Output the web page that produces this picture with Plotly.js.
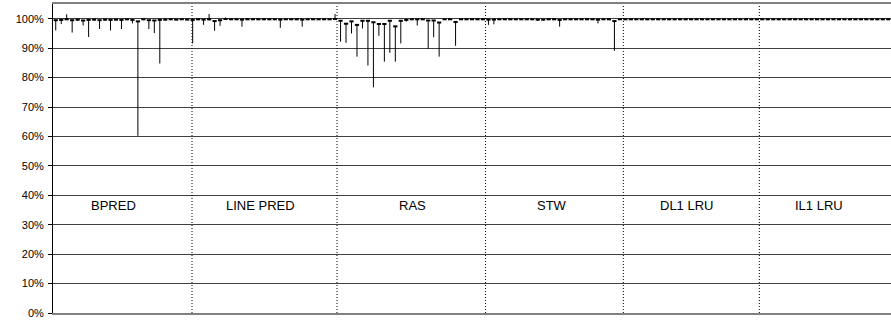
<!DOCTYPE html>
<html>
<head>
<meta charset="utf-8">
<script src="https://cdn.plot.ly/plotly-3.0.1.min.js"></script>
<style>html,body{margin:0;padding:0;background:#fff;}#chart{width:891px;height:320px;}</style>
</head>
<body>
<div id="chart"></div>
<script>
// ---- data (percent) ----
const groupNames = ["BPRED", "LINE PRED", "RAS", "STW", "DL1 LRU", "IL1 LRU"];

const bpredAvg  = [99.5,99.6,99.8,99.5,99.7,99.4,99.6,99.7,99.5,99.7,99.6,99.7,99.6,99.8,99.6,99.1,99.8,99.5,99.4,99.6,99.7,99.8,99.7,99.8,99.7];
const bpredLow  = [96.0,98.2,99.6,95.3,99.2,97.7,93.8,99.3,96.5,99.2,96.0,99.3,96.5,99.5,98.4,60.2,99.5,96.5,95.1,84.8,99.4,99.6,99.5,99.6,99.7];
const bpredHigh = [99.5,99.6,101.5,99.5,99.7,99.4,99.6,99.7,99.5,99.7,99.6,99.7,99.6,99.8,99.6,99.1,99.8,99.5,99.4,99.6,99.7,99.8,99.7,99.8,99.7];

const linePredAvg  = [99.6,99.8,99.7,99.8,99.2,99.5,99.9,99.8,99.8,99.7,99.8,99.8,99.8,99.8,99.8,99.8,99.7,99.8,99.8,99.8,99.7,99.8,99.8,99.8,99.8,99.8,99.9];
const linePredLow  = [91.6,99.5,97.9,99.4,95.9,97.6,99.8,99.6,99.8,97.3,99.8,99.8,99.8,99.8,99.8,99.8,96.9,99.8,99.8,99.8,97.3,99.8,99.8,99.8,99.8,99.8,99.9];
const linePredHigh = [99.6,99.8,99.7,101.6,99.2,99.5,100.4,99.8,99.8,99.7,99.8,99.8,99.8,99.8,99.8,99.8,99.7,99.8,99.8,99.8,99.7,99.8,99.8,99.8,99.8,99.8,101.6];

const rasAvg  = [99.3,98.3,99.1,97.9,99.3,99.3,98.8,98.2,98.2,99.3,97.4,99.3,99.6,99.8,99.8,99.8,99.4,99.4,98.7,99.8,99.8,98.9,99.8,99.8,99.8,99.8,99.8];
const rasLow  = [92.2,91.8,95.0,87.1,96.7,84.1,76.7,94.2,85.4,88.4,85.4,91.6,99.0,99.8,97.7,99.8,89.8,93.7,87.1,99.8,99.8,90.8,99.8,99.8,99.8,99.8,99.8];
const rasHigh = [99.3,98.3,99.1,97.9,99.3,99.3,98.8,98.2,98.2,99.3,97.4,99.3,99.6,99.8,99.8,99.8,99.4,99.4,98.7,99.8,99.8,98.9,99.8,99.8,99.8,99.8,99.8];

const stwAvg  = [99.7,99.7,99.8,99.8,99.8,99.8,99.8,99.8,99.8,99.7,99.7,99.8,99.8,99.6,99.8,99.8,99.8,99.8,99.8,99.8,99.7,99.8,99.8,99.2,99.8];
const stwLow  = [97.9,98.1,99.8,99.8,99.8,99.8,99.8,99.8,99.8,99.2,99.3,99.8,99.8,97.3,99.8,99.8,99.8,99.8,99.8,99.8,98.4,99.8,99.8,89.1,99.8];
const stwHigh = [99.7,99.7,99.8,99.8,99.8,99.8,99.8,99.8,99.8,99.7,99.7,99.8,99.8,99.6,99.8,99.8,99.8,99.8,99.8,99.8,99.7,99.8,99.8,99.2,99.8];

const dl1Avg  = [99.8,99.8,99.8,99.8,99.8,99.8,99.8,99.8,99.8,99.8,99.8,99.8,99.8,99.8,99.8,99.8,99.8,99.8,99.8,99.8,99.8,99.8,99.8,99.8,99.8];
const dl1Low  = [99.8,99.8,99.8,99.8,99.8,99.8,99.8,99.8,99.8,99.8,99.8,99.8,99.8,99.8,99.8,99.8,99.8,99.8,99.8,99.8,99.8,99.8,99.8,99.8,99.8];
const dl1High = [99.8,99.8,99.8,99.8,99.8,99.8,99.8,99.8,99.8,99.8,99.8,99.8,99.8,99.8,99.8,99.8,99.8,99.8,99.8,99.8,99.8,99.8,99.8,99.8,99.8];

const il1Avg  = [99.8,99.8,99.8,99.8,99.8,99.8,99.8,99.8,99.8,99.8,99.8,99.8,99.8,99.8,99.8,99.8,99.8,99.8,99.8,99.8,99.8,99.8,99.8,99.8];
const il1Low  = [99.8,99.8,99.8,99.8,99.8,99.8,99.8,99.8,99.8,99.8,99.8,99.8,99.8,99.8,99.8,99.8,99.8,99.8,99.8,99.8,99.8,99.8,99.8,99.8];
const il1High = [99.8,99.8,99.8,99.8,99.8,99.8,99.8,99.8,99.8,99.8,99.8,99.8,99.8,99.8,99.8,99.8,99.8,99.8,99.8,99.8,99.8,99.8,99.8,99.8];

// separator positions (in point-index units) and label anchors
const separatorX = [24.88, 51.35, 78.47, 103.63, 128.46];
const labelX = [10.5, 37.3, 65.2, 90.6, 115.2, 139.3];
const labelY = 36.5;
const yTickVals = [0,10,20,30,40,50,60,70,80,90,100];
const yTickText = ["0%","10%","20%","30%","40%","50%","60%","70%","80%","90%","100%"];

// ---- build ----
const avg  = [].concat(bpredAvg, linePredAvg, rasAvg, stwAvg, dl1Avg, il1Avg);
const low  = [].concat(bpredLow, linePredLow, rasLow, stwLow, dl1Low, il1Low);
const high = [].concat(bpredHigh, linePredHigh, rasHigh, stwHigh, dl1High, il1High);
const xs = avg.map((_, i) => i);
const plus = high.map((h, i) => Math.max(0, h - avg[i]));
const minus = low.map((l, i) => Math.max(0, avg[i] - l));

const trace = {
  type: 'scatter', mode: 'markers', x: xs, y: avg,
  marker: {symbol: 'line-ew', size: 3, color: '#000', line: {color: '#000', width: 2}},
  error_y: {type: 'data', symmetric: false, array: plus, arrayminus: minus,
            color: '#000', thickness: 1, width: 0},
  hoverinfo: 'skip', showlegend: false
};

const shapes = separatorX.map(x => ({
  type: 'line', xref: 'x', yref: 'y', x0: x, x1: x, y0: 0, y1: 105,
  line: {color: '#000', width: 1, dash: '1px,2px'}, layer: 'above'
}));

const annotations = groupNames.map((t, k) => ({
  text: t, x: labelX[k], y: labelY, xref: 'x', yref: 'y', showarrow: false,
  font: {family: 'Arial, "Liberation Sans", sans-serif', size: 13, color: '#000'}
}));

const layout = {
  width: 891, height: 320,
  margin: {l: 53, r: 0, t: 4, b: 7},
  paper_bgcolor: '#fff', plot_bgcolor: '#fff',
  font: {family: 'Arial, "Liberation Sans", sans-serif', size: 11, color: '#000'},
  xaxis: {range: [-0.5, avg.length - 0.5], showgrid: false, zeroline: false,
          showticklabels: false, ticks: '', showline: true, mirror: true,
          linecolor: '#808080', linewidth: 2},
  yaxis: {range: [0, 105], tickvals: yTickVals, ticktext: yTickText,
          showgrid: true, gridcolor: '#404040', gridwidth: 1, zeroline: false,
          showline: true, linecolor: '#000', linewidth: 1,
          ticks: 'outside', ticklen: 4, tickcolor: '#000', ticklabelstandoff: 2,
          tickfont: {size: 11}},
  shapes: shapes,
  annotations: annotations
};

Plotly.newPlot('chart', [trace], layout, {displayModeBar: false, staticPlot: true});
</script>
</body>
</html>
